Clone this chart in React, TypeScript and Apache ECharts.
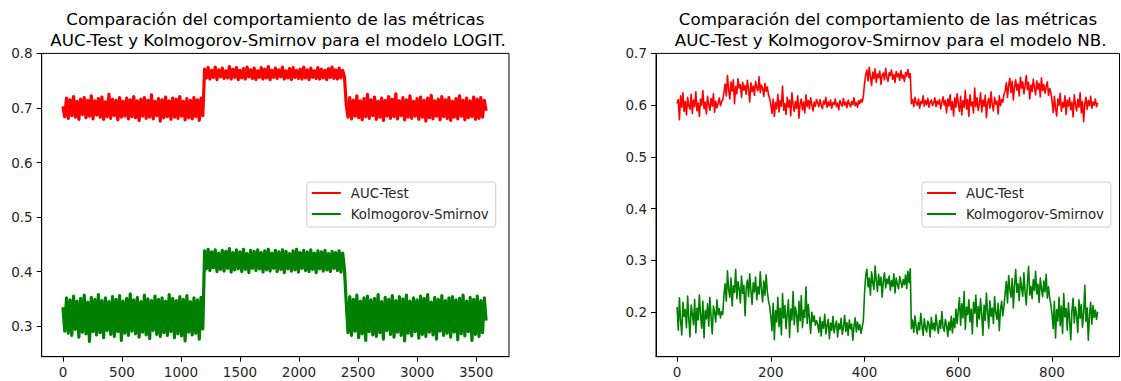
import React, { useEffect, useRef } from "react";
import * as echarts from "echarts";

// ---------- data ----------
const LOGIT_STEP = 15; // spacing of the samples
const NB_STEP = 2.5; // spacing of the samples

const logitAuc = [
  0.703,0.684,0.718,0.681,0.715,0.686,0.721,0.683,0.712,0.679,0.716,0.688,0.719,0.682,0.714,0.685,0.722,0.680,0.713,0.687,
  0.717,0.683,0.720,0.679,0.711,0.684,0.725,0.681,0.716,0.686,0.714,0.678,0.719,0.683,0.712,0.685,0.718,0.680,0.715,0.684,
  0.721,0.682,0.713,0.677,0.716,0.685,0.719,0.681,0.714,0.683,0.724,0.680,0.712,0.686,0.717,0.676,0.715,0.682,0.720,0.684,
  0.713,0.679,0.718,0.683,0.716,0.681,0.721,0.685,0.712,0.678,0.717,0.682,0.714,0.680,0.719,0.684,0.715,0.677,0.718,0.686,
  0.771,0.755,0.774,0.753,0.769,0.756,0.775,0.752,0.770,0.757,0.773,0.754,0.768,0.755,0.776,0.753,0.771,0.756,0.774,0.752,
  0.769,0.755,0.772,0.753,0.775,0.757,0.770,0.754,0.773,0.752,0.768,0.756,0.774,0.753,0.771,0.755,0.776,0.752,0.769,0.756,
  0.773,0.754,0.770,0.757,0.775,0.753,0.768,0.755,0.772,0.752,0.774,0.756,0.769,0.754,0.771,0.753,0.775,0.755,0.770,0.752,
  0.773,0.756,0.768,0.754,0.774,0.753,0.771,0.755,0.769,0.752,0.772,0.756,0.775,0.754,0.770,0.753,0.773,0.755,0.769,0.757,
  0.706,0.683,0.719,0.680,0.714,0.685,0.722,0.682,0.713,0.678,0.717,0.684,0.725,0.681,0.715,0.686,0.720,0.679,0.712,0.683,
  0.718,0.677,0.714,0.685,0.721,0.681,0.716,0.684,0.726,0.680,0.713,0.686,0.719,0.678,0.715,0.683,0.722,0.681,0.712,0.685,
  0.717,0.679,0.720,0.683,0.714,0.676,0.718,0.682,0.723,0.680,0.713,0.685,0.716,0.678,0.721,0.684,0.715,0.681,0.719,0.677,
  0.712,0.683,0.717,0.680,0.722,0.685,0.714,0.678,0.718,0.682,0.713,0.684,0.720,0.679,0.716,0.681,0.719,0.683,0.714,0.695,
];

const logitKs = [
  0.335,0.291,0.352,0.287,0.348,0.283,0.355,0.294,0.346,0.280,0.351,0.289,0.357,0.286,0.344,0.272,0.353,0.290,0.349,0.284,
  0.358,0.288,0.347,0.279,0.352,0.292,0.345,0.285,0.354,0.281,0.349,0.290,0.356,0.274,0.346,0.287,0.351,0.283,0.359,0.291,
  0.348,0.286,0.353,0.280,0.345,0.289,0.357,0.284,0.350,0.277,0.347,0.292,0.355,0.285,0.349,0.281,0.352,0.288,0.346,0.283,
  0.358,0.290,0.351,0.279,0.347,0.286,0.354,0.282,0.349,0.273,0.356,0.289,0.345,0.284,0.352,0.287,0.348,0.276,0.353,0.295,
  0.438,0.405,0.441,0.402,0.436,0.407,0.440,0.400,0.434,0.404,0.439,0.401,0.437,0.406,0.442,0.399,0.435,0.403,0.440,0.405,
  0.436,0.400,0.441,0.404,0.433,0.398,0.439,0.406,0.437,0.402,0.440,0.405,0.435,0.399,0.438,0.403,0.441,0.401,0.434,0.406,
  0.439,0.400,0.436,0.404,0.440,0.398,0.437,0.405,0.433,0.401,0.438,0.403,0.441,0.399,0.435,0.406,0.439,0.402,0.436,0.400,
  0.440,0.404,0.434,0.398,0.438,0.405,0.436,0.401,0.439,0.403,0.433,0.400,0.437,0.406,0.435,0.402,0.438,0.399,0.434,0.404,
  0.343,0.288,0.354,0.283,0.349,0.291,0.357,0.279,0.346,0.286,0.352,0.274,0.355,0.290,0.348,0.284,0.351,0.281,0.358,0.288,
  0.345,0.276,0.353,0.292,0.349,0.285,0.356,0.280,0.347,0.289,0.354,0.283,0.350,0.273,0.357,0.287,0.346,0.282,0.352,0.290,
  0.348,0.278,0.355,0.285,0.351,0.281,0.358,0.289,0.344,0.284,0.353,0.276,0.349,0.291,0.356,0.283,0.347,0.287,0.352,0.280,
  0.354,0.289,0.348,0.275,0.351,0.286,0.357,0.282,0.346,0.290,0.353,0.274,0.349,0.285,0.355,0.281,0.347,0.288,0.352,0.310,
];

const nbAuc = [
  0.603,0.611,0.572,0.618,0.596,0.624,0.588,0.607,0.581,0.615,0.599,0.592,0.621,0.584,0.610,0.597,0.626,0.589,0.604,0.578,
  0.612,0.600,0.628,0.593,0.606,0.583,0.617,0.601,0.590,0.613,0.598,0.622,0.586,0.608,0.595,0.603,0.614,0.599,0.607,0.610,
  0.625,0.641,0.618,0.657,0.630,0.612,0.645,0.627,0.649,0.603,0.636,0.622,0.651,0.633,0.640,0.615,0.644,0.629,0.638,0.621,
  0.648,0.631,0.606,0.643,0.626,0.637,0.619,0.646,0.634,0.628,0.655,0.624,0.639,0.632,0.617,0.642,0.627,0.635,0.620,0.613,
  0.601,0.584,0.612,0.578,0.605,0.593,0.621,0.587,0.609,0.598,0.637,0.590,0.603,0.582,0.615,0.596,0.610,0.579,0.624,0.600,
  0.588,0.607,0.594,0.618,0.575,0.603,0.612,0.591,0.606,0.585,0.620,0.597,0.609,0.593,0.614,0.601,0.589,0.606,0.598,0.611,
  0.604,0.597,0.611,0.600,0.593,0.608,0.602,0.615,0.596,0.606,0.599,0.610,0.594,0.605,0.601,0.612,0.597,0.604,0.591,0.609,
  0.603,0.598,0.613,0.600,0.606,0.595,0.610,0.602,0.597,0.607,0.601,0.614,0.599,0.605,0.596,0.609,0.603,0.611,0.606,0.618,
  0.642,0.659,0.668,0.647,0.673,0.655,0.638,0.664,0.651,0.670,0.644,0.660,0.653,0.666,0.640,0.657,0.662,0.649,0.671,0.654,
  0.646,0.663,0.657,0.668,0.650,0.659,0.644,0.665,0.655,0.661,0.648,0.667,0.652,0.658,0.646,0.663,0.656,0.669,0.653,0.661,
  0.603,0.611,0.597,0.615,0.605,0.600,0.612,0.594,0.607,0.603,0.618,0.598,0.609,0.601,0.613,0.596,0.606,0.610,0.599,0.604,
  0.614,0.597,0.608,0.602,0.611,0.593,0.606,0.616,0.600,0.609,0.585,0.612,0.598,0.620,0.591,0.607,0.579,0.614,0.596,0.622,
  0.604,0.588,0.617,0.581,0.609,0.596,0.628,0.592,0.611,0.578,0.620,0.599,0.606,0.585,0.633,0.597,0.614,0.590,0.603,0.624,
  0.587,0.610,0.598,0.619,0.576,0.605,0.613,0.594,0.626,0.600,0.589,0.615,0.602,0.608,0.583,0.618,0.599,0.611,0.606,0.621,
  0.627,0.643,0.615,0.638,0.652,0.624,0.646,0.610,0.635,0.649,0.629,0.641,0.618,0.654,0.633,0.645,0.622,0.637,0.657,0.630,
  0.644,0.612,0.639,0.626,0.650,0.634,0.620,0.647,0.631,0.642,0.616,0.653,0.628,0.640,0.623,0.636,0.645,0.619,0.632,0.625,
  0.608,0.586,0.617,0.594,0.579,0.612,0.600,0.623,0.588,0.605,0.596,0.618,0.582,0.610,0.598,0.614,0.591,0.606,0.577,0.620,
  0.601,0.589,0.611,0.596,0.624,0.585,0.607,0.568,0.603,0.615,0.592,0.609,0.599,0.617,0.594,0.606,0.600,0.612,0.597,0.604,
];

const nbKs = [
  0.210,0.165,0.228,0.183,0.156,0.219,0.192,0.205,0.170,0.231,0.188,0.152,0.214,0.197,0.176,0.225,0.160,0.208,0.185,0.233,
  0.194,0.169,0.221,0.150,0.203,0.187,0.216,0.173,0.229,0.191,0.158,0.212,0.199,0.181,0.224,0.195,0.207,0.189,0.201,0.196,
  0.234,0.255,0.221,0.280,0.243,0.229,0.266,0.212,0.251,0.238,0.283,0.226,0.259,0.245,0.218,0.270,0.236,0.252,0.193,0.247,
  0.262,0.230,0.274,0.241,0.215,0.257,0.239,0.268,0.224,0.249,0.235,0.278,0.244,0.220,0.260,0.233,0.272,0.240,0.222,0.212,
  0.192,0.164,0.217,0.147,0.203,0.181,0.229,0.172,0.208,0.156,0.236,0.189,0.213,0.168,0.197,0.224,0.151,0.206,0.185,0.240,
  0.176,0.210,0.195,0.162,0.221,0.183,0.232,0.170,0.204,0.190,0.249,0.178,0.215,0.187,0.159,0.200,0.182,0.193,0.175,0.184,
  0.176,0.161,0.190,0.154,0.182,0.169,0.196,0.158,0.175,0.186,0.149,0.179,0.165,0.192,0.160,0.174,0.183,0.152,0.178,0.167,
  0.188,0.157,0.171,0.194,0.163,0.180,0.155,0.185,0.168,0.177,0.146,0.173,0.189,0.162,0.181,0.166,0.176,0.159,0.171,0.184,
  0.238,0.271,0.283,0.249,0.266,0.233,0.278,0.257,0.244,0.289,0.262,0.240,0.273,0.252,0.268,0.229,0.260,0.276,0.247,0.264,
  0.255,0.270,0.242,0.261,0.250,0.274,0.237,0.266,0.254,0.245,0.269,0.258,0.248,0.263,0.253,0.272,0.246,0.279,0.257,0.284,
  0.168,0.185,0.161,0.193,0.172,0.158,0.180,0.166,0.198,0.174,0.155,0.187,0.170,0.162,0.183,0.177,0.152,0.190,0.167,0.179,
  0.164,0.195,0.173,0.159,0.184,0.169,0.201,0.171,0.163,0.186,0.176,0.153,0.181,0.165,0.192,0.160,0.188,0.170,0.206,0.178,
  0.203,0.228,0.175,0.216,0.189,0.240,0.167,0.210,0.195,0.224,0.181,0.206,0.158,0.219,0.198,0.233,0.172,0.211,0.187,0.226,
  0.196,0.155,0.214,0.184,0.237,0.201,0.169,0.222,0.192,0.208,0.178,0.230,0.199,0.186,0.217,0.164,0.205,0.221,0.193,0.212,
  0.236,0.259,0.218,0.271,0.244,0.229,0.265,0.208,0.252,0.283,0.238,0.255,0.222,0.268,0.247,0.231,0.276,0.240,0.214,0.257,
  0.288,0.233,0.250,0.226,0.263,0.242,0.279,0.235,0.254,0.219,0.266,0.245,0.230,0.260,0.239,0.273,0.227,0.249,0.228,0.215,
  0.196,0.168,0.221,0.150,0.205,0.183,0.229,0.174,0.212,0.159,0.236,0.191,0.207,0.165,0.218,0.185,0.147,0.202,0.227,0.179,
  0.210,0.193,0.161,0.224,0.188,0.215,0.171,0.199,0.252,0.182,0.208,0.146,0.195,0.219,0.177,0.213,0.190,0.204,0.186,0.201,
];

const logitTicksX = [0, 500, 1000, 1500, 2000, 2500, 3000, 3500];
const logitTicksY = [0.3, 0.4, 0.5, 0.6, 0.7, 0.8];
const nbTicksX = [0, 200, 400, 600, 800];
const nbTicksY = [0.2, 0.3, 0.4, 0.5, 0.6, 0.7];

const seriesNames = ["AUC-Test", "Kolmogorov-Smirnov"];
const titles = [
  "Comparación del comportamiento de las métricas\n AUC-Test y Kolmogorov-Smirnov para el modelo LOGIT.",
  "Comparación del comportamiento de las métricas\n AUC-Test y Kolmogorov-Smirnov para el modelo NB.",
];

const FONT = "DejaVu Sans";
const RED = "#ff0000";
const GREEN = "#008000";
const TICK_FONT = 13.5;

const pairs = (vals: number[], step: number) => vals.map((v, i) => [i * step, v]);

function xAxis(gridIndex: number, min: number, max: number, ticks: number[]) {
  return {
    type: "value",
    gridIndex,
    min,
    max,
    axisLine: { show: true, onZero: false, lineStyle: { color: "#000", width: 1 } },
    axisTick: { show: true, length: 5, lineStyle: { color: "#000" }, customValues: ticks },
    axisLabel: {
      customValues: ticks,
      fontSize: TICK_FONT,
      fontFamily: FONT,
      color: "#262626",
      margin: 8,
      formatter: (v: number) => String(v),
    },
    splitLine: { show: false },
  };
}

function yAxis(gridIndex: number, min: number, max: number, ticks: number[]) {
  return {
    type: "value",
    gridIndex,
    min,
    max,
    axisLine: { show: true, onZero: false, lineStyle: { color: "#000", width: 1 } },
    axisTick: { show: true, length: 5, lineStyle: { color: "#000" }, customValues: ticks },
    axisLabel: {
      customValues: ticks,
      fontSize: TICK_FONT,
      fontFamily: FONT,
      color: "#262626",
      margin: 9,
      formatter: (v: number) => v.toFixed(1),
    },
    splitLine: { show: false },
  };
}

function legend(left: number) {
  return {
    left,
    top: 182,
    orient: "vertical",
    data: seriesNames,
    icon: "rect",
    itemWidth: 29,
    itemHeight: 2,
    itemGap: 5,
    padding: [3, 7, 5, 5],
    backgroundColor: "rgba(255,255,255,0.8)",
    borderColor: "#cccccc",
    borderWidth: 1,
    borderRadius: 3,
    selectedMode: false,
    textStyle: {
      fontSize: 13.3,
      fontFamily: FONT,
      color: "#262626",
      lineHeight: 16,
      padding: [0, 0, 0, 5],
    },
  };
}

function line(name: string, color: string, data: number[][], idx: number, width: number) {
  return {
    type: "line",
    name,
    xAxisIndex: idx,
    yAxisIndex: idx,
    data,
    showSymbol: false,
    symbol: "none",
    lineStyle: { color, width, join: "round" },
    itemStyle: { color },
    silent: true,
  };
}

export default function App() {
  const ref = useRef<HTMLDivElement>(null);
  useEffect(() => {
    if (!ref.current) return;
    const chart = echarts.init(ref.current, undefined, { renderer: "svg" });
    chart.setOption({
      animation: false,
      backgroundColor: "#fff",
      grid: [
        { left: 41.7, right: 1121 - 509, top: 53.4, bottom: 381 - 356.7, show: true, borderColor: "#000", borderWidth: 1, backgroundColor: "transparent" },
        { left: 656, right: 1.5, top: 53.4, bottom: 381 - 356.7, show: true, borderColor: "#000", borderWidth: 1, backgroundColor: "transparent" },
      ],
      xAxis: [xAxis(0, -180, 3779, logitTicksX), xAxis(1, -45, 944, nbTicksX)],
      yAxis: [yAxis(0, 0.244, 0.8, logitTicksY), yAxis(1, 0.114, 0.7, nbTicksY)],
      legend: [legend(306.8), legend(922)],
      graphic: [
        {
          type: "text",
          x: 275.4,
          y: 8,
          style: { text: titles[0], font: `16.7px '${FONT}'`, textAlign: "center", textVerticalAlign: "top", lineHeight: 21, fill: "#000" },
        },
        {
          type: "text",
          x: 888,
          y: 8,
          style: { text: titles[1], font: `16.7px '${FONT}'`, textAlign: "center", textVerticalAlign: "top", lineHeight: 21, fill: "#000" },
        },
      ],
      series: [
        line(seriesNames[0], RED, pairs(logitAuc, LOGIT_STEP), 0, 3.2),
        line(seriesNames[1], GREEN, pairs(logitKs, LOGIT_STEP), 0, 3.2),
        line(seriesNames[0], RED, pairs(nbAuc, NB_STEP), 1, 1.6),
        line(seriesNames[1], GREEN, pairs(nbKs, NB_STEP), 1, 1.6),
      ],
    });
    return () => chart.dispose();
  }, []);
  return <div ref={ref} style={{ position: "absolute", left: 0, top: 0, width: 1121, height: 381 }} />;
}
